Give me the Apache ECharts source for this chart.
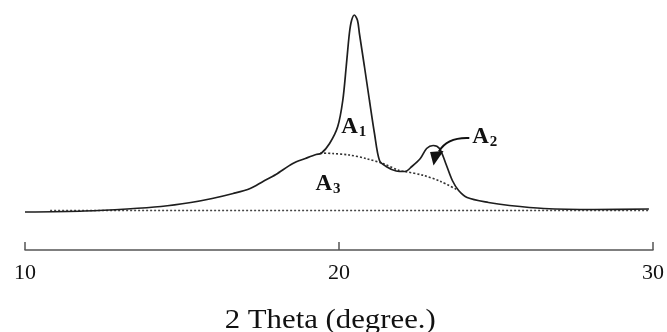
<!DOCTYPE html>
<html>
<head>
<meta charset="utf-8">
<script src="https://cdn.jsdelivr.net/npm/echarts@6/dist/echarts.min.js"></script>
<style>html,body{margin:0;padding:0;background:#fff;}#c{width:667px;height:332px;}</style>
</head>
<body>
<div id="c"></div>
<script>
// 2 Theta (degree) vs intensity (arbitrary units, baseline = 0)
var xTicks = [10, 20, 30];
var xTickLabels = ['10', '20', '30'];
var xTitle = '2 Theta (degree.)';

// measured diffraction curve [2theta, intensity]
var curve = [
  [10.0,-1.5],[11.9,-0.5],[13.25,1.5],[14.33,4],[15.28,8],[15.96,12],[16.63,17],
  [17.17,22],[17.58,29],[17.99,36],[18.53,47],[18.93,52],[19.27,56],[19.43,57],
  [19.70,67],[19.96,84],[20.12,110],[20.23,144],[20.33,177],[20.40,190],[20.49,195.5],
  [20.59,190],[20.65,177],[20.81,144],[20.97,110],[21.13,77],[21.29,50],[21.50,44],
  [21.82,39.5],[22.1,39],[22.32,44],[22.59,52],[22.79,62],[23.0,65],[23.2,62],
  [23.40,47],[23.61,30],[23.81,20],[24.08,13],[24.76,8],[25.43,5],[26.52,2],
  [28.14,1],[29.87,1.5]
];
// amorphous halo boundary (dotted) separating A3 from A1/A2
var amorphous = [
  [19.4,57.5],[19.8,57],[20.33,55.5],[20.86,52],[21.39,47],[21.92,40],[22.1,39],
  [22.70,35],[23.24,29],[23.78,20.5]
];
// baseline (dotted)
var baseline = [[10.8,0],[29.85,0]];

// area labels: [main, subscript, x, y] (x,y in data units, left/top of label)
var areaLabels = [
  ['A', '1', 20.07, 95],
  ['A', '2', 24.24, 85],
  ['A', '3', 19.25, 38]
];
// arrow to A2: start, control, end, head (data units)
var arrowPath = {start:[24.15,72.5], ctrl:[23.45,73.5], end:[23.18,59]};
var arrowHead = [[22.90,58.5],[23.33,59.5],[23.01,45]];

var chart = echarts.init(document.getElementById('c'), null, {renderer:'canvas'});
var serif = '"Liberation Serif","Times New Roman",serif';
var option = {
  animation: false,
  backgroundColor: '#fff',
  grid: {left: 25, right: 13, top: 0, bottom: 82, containLabel: false},
  xAxis: {
    type: 'value', min: 10, max: 30, interval: 10,
    axisLine: {show: true, onZero: false, lineStyle: {color: '#555', width: 1.5}},
    axisTick: {show: true, inside: true, length: 8, lineStyle: {color: '#555', width: 1.5}},
    axisLabel: {show: true, margin: 12, fontFamily: serif, fontSize: 22, color: '#111',
      showMinLabel: true, showMaxLabel: true,
      formatter: function (v) { var i = xTicks.indexOf(v); return i >= 0 ? xTickLabels[i] : ''; }},
    splitLine: {show: false}
  },
  yAxis: {type: 'value', min: -39.5, max: 210.5, show: false, splitLine: {show: false}},
  series: [
    {type: 'line', data: curve, symbol: 'none', smooth: 0.3, clip: false,
     lineStyle: {color: '#1e1e1e', width: 1.7}, z: 3},
    {type: 'line', data: amorphous, symbol: 'none', smooth: 0.3,
     lineStyle: {color: '#333', width: 1.6, type: [2, 2]}, z: 2},
    {type: 'line', data: baseline, symbol: 'none',
     lineStyle: {color: '#444', width: 1.6, type: [2, 2]}, z: 2}
  ]
};
chart.setOption(option);

function px(p) { return chart.convertToPixel({gridIndex: 0}, p); }
var g = [];
areaLabels.forEach(function (l) {
  var p = px([l[2], l[3]]);
  g.push({type: 'text', x: p[0], y: p[1], z: 10,
    style: {text: '{a|' + l[0] + '}{s|' + l[1] + '}', verticalAlign: 'top',
      rich: {
        a: {fontFamily: serif, fontSize: 23, fontWeight: 'bold', fill: '#111', lineHeight: 24, verticalAlign: 'top'},
        s: {fontFamily: serif, fontSize: 15, fontWeight: 'bold', fill: '#111', lineHeight: 15, padding: [9, 0, 0, 1], verticalAlign: 'top'}
      }}});
});
var s = px(arrowPath.start), c = px(arrowPath.ctrl), e = px(arrowPath.end);
g.push({type: 'bezierCurve', z: 10, shape: {x1: s[0], y1: s[1], cpx1: c[0], cpy1: c[1], x2: e[0], y2: e[1]},
  style: {stroke: '#111', lineWidth: 2, fill: null}});
g.push({type: 'polygon', z: 10, shape: {points: arrowHead.map(px)}, style: {fill: '#111'}});
g.push({type: 'text', x: 384, y: 321, z: 10, scaleX: 1.14, originX: 384, originY: 321,
  style: {text: xTitle, fontFamily: serif, fontSize: 27, fill: '#111', align: 'center', verticalAlign: 'middle'}});
chart.setOption({graphic: g});
</script>
</body>
</html>
